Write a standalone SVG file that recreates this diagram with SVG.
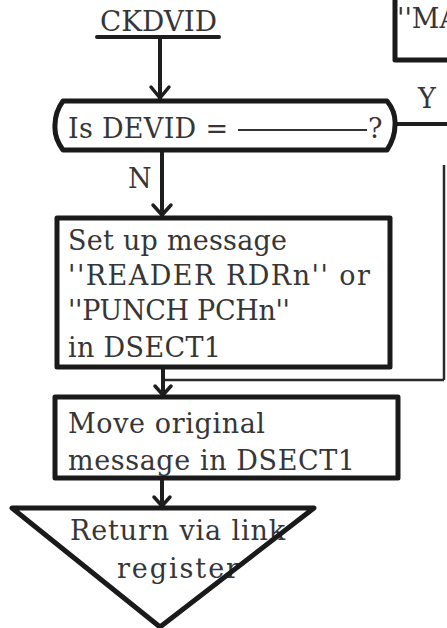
<svg xmlns="http://www.w3.org/2000/svg" width="447" height="628" viewBox="0 0 447 628">
<style>
.t{font-family:"DejaVu Serif","Liberation Serif",serif;font-size:27px;fill:#363636}
.ln{stroke:#1e1e1e;stroke-width:4;fill:none;stroke-linecap:round}
.thin{stroke:#2a2a2a;stroke-width:2.5;fill:none}
.box{stroke:#1a1a1a;stroke-width:5;fill:#fff;stroke-linejoin:round}
.open{stroke:#1a1a1a;stroke-width:5;fill:none;stroke-linejoin:round}
.ah{stroke:#1e1e1e;stroke-width:3.5;fill:none;stroke-linecap:round;stroke-linejoin:round}
</style>
<rect width="447" height="628" fill="#fff"/>
<g id="connectors">
<line class="ln" x1="160" y1="37" x2="160" y2="99"/>
<path class="ah" d="M151,87 L160,98 L169,87"/>
<line class="ln" x1="162" y1="152" x2="162" y2="216"/>
<path class="ah" d="M153,205 L162,215 L171,205"/>
<line class="ln" x1="395" y1="124" x2="447" y2="124"/>
<line class="thin" x1="444" y1="165" x2="444" y2="380"/>
<line class="thin" x1="444" y1="380" x2="162" y2="380"/>
<line class="ln" x1="163" y1="368" x2="163" y2="396"/>
<path class="ah" d="M155,386 L163,395 L171,386"/>
<line class="ln" x1="162" y1="478" x2="162" y2="507"/>
<path class="ah" d="M154,497 L162,506 L170,497"/>
<text class="t" x="418" y="108" textLength="19">Y</text>
<text class="t" x="128" y="188" textLength="19">N</text>
</g>
<g id="entry">
<text class="t" x="100" y="31" textLength="117" lengthAdjust="spacingAndGlyphs">CKDVID</text>
<line class="ln" x1="97" y1="37" x2="219" y2="37" stroke-width="4.5"/>
</g>
<g id="msgbox">
<path class="open" d="M395,-5 L395,60 L452,60"/>
<text class="t" x="397" y="28">''MA</text>
</g>
<g id="decision">
<path class="box" d="M63,101 L387,101 Q396,112 395,125 Q395,138 387,150 L63,150 Q54,138 55,125 Q55,112 63,101 Z"/>
<text class="t" x="68" y="138" textLength="160">Is DEVID =</text>
<line x1="238" y1="130" x2="367" y2="130" stroke="#333" stroke-width="2"/>
<text class="t" x="368" y="138">?</text>
</g>
<g id="setup">
<rect class="box" x="57" y="218" width="333" height="149"/>
<text class="t" x="68" y="250" textLength="219">Set up message</text>
<text class="t" x="68" y="285" textLength="302">''READER RDRn'' or</text>
<text class="t" x="68" y="320" textLength="222">''PUNCH PCHn''</text>
<text class="t" x="68" y="357" textLength="153">in DSECT1</text>
</g>
<g id="move">
<rect class="box" x="55" y="397" width="343" height="81"/>
<text class="t" x="68" y="433" textLength="197">Move original</text>
<text class="t" x="68" y="470" textLength="287">message in DSECT1</text>
</g>
<g id="return">
<text class="t" x="70" y="540" textLength="215">Return via link</text>
<text class="t" x="117" y="578" textLength="122">register</text>
<path class="open" d="M12,508 L314,508 L160,627 Z"/>
</g>
</svg>
